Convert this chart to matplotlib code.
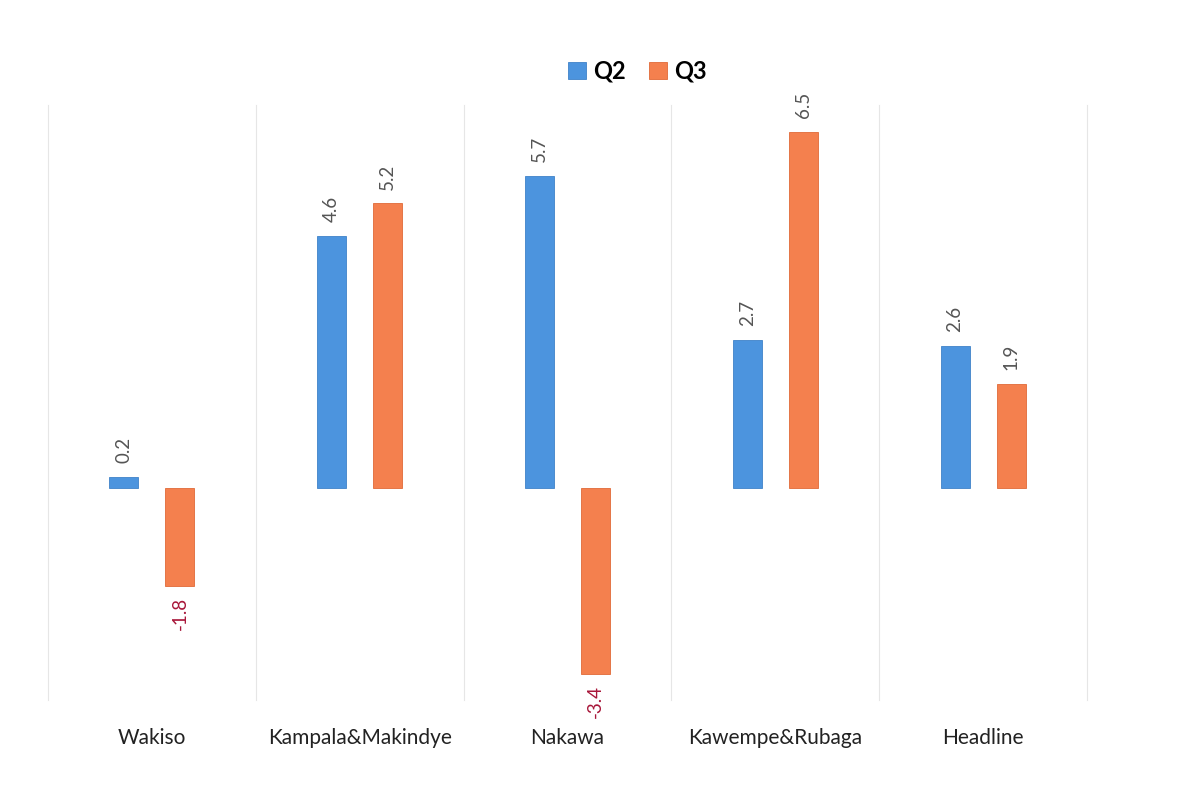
import numpy as np
import matplotlib.pyplot as plt

categories = ["Wakiso", "Kampala&Makindye", "Nakawa", "Kawempe&Rubaga", "Headline"]
q2 = [0.2, 4.6, 5.7, 2.7, 2.6]
q3 = [-1.8, 5.2, -3.4, 6.5, 1.9]

blue = "#4C94DE"
orange = "#F4804E"

plt.rcParams['font.family'] = ['Lato', 'DejaVu Sans']

fig = plt.figure(figsize=(11.8, 8.1), dpi=100)
ax = fig.add_axes([48 / 1180, 110 / 810, 1039 / 1180, 595 / 810])

x = np.arange(len(categories))
w = 0.14
off = 0.135
b1 = ax.bar(x - off, q2, w, color=blue, edgecolor="#3F82C8", linewidth=0.6, label="Q2")
b2 = ax.bar(x + off, q3, w, color=orange, edgecolor="#E06A38", linewidth=0.6, label="Q3")

for bars, vals in ((b1, q2), (b2, q3)):
    for rect, v in zip(bars, vals):
        cx = rect.get_x() + rect.get_width() / 2
        if v >= 0:
            ax.annotate(f"{v:.1f}", (cx, v), xytext=(0, 10), textcoords="offset points",
                        rotation=90, ha="center", va="bottom", fontsize=13.5, color="#555555")
        else:
            ax.annotate(f"{v:.1f}", (cx, v), xytext=(0, -8), textcoords="offset points",
                        rotation=90, ha="center", va="top", fontsize=13.5, color="#A8173A")

ax.set_xlim(-0.5, len(categories) - 0.5)
ax.set_ylim(-3.88, 7.0)
for b in np.arange(-0.5, len(categories), 1.0):
    ax.axvline(b, color="#E6E6E6", linewidth=0.8, zorder=0, clip_on=False)

ax.set_xticks(x)
ax.set_xticklabels(categories, fontsize=15, color="#222222")
ax.tick_params(axis="x", length=0, pad=20)
ax.set_yticks([])
for s in ax.spines.values():
    s.set_visible(False)

leg = fig.legend(handles=[b1, b2], labels=["Q2", "Q3"], loc="center", bbox_to_anchor=(0.54, 0.912),
                 ncol=2, frameon=False, prop={"weight": "bold", "size": 17},
                 handlelength=0.75, handleheight=0.75, handletextpad=0.3, columnspacing=1.0)

fig.savefig("out.png", dpi=100, facecolor="white")
